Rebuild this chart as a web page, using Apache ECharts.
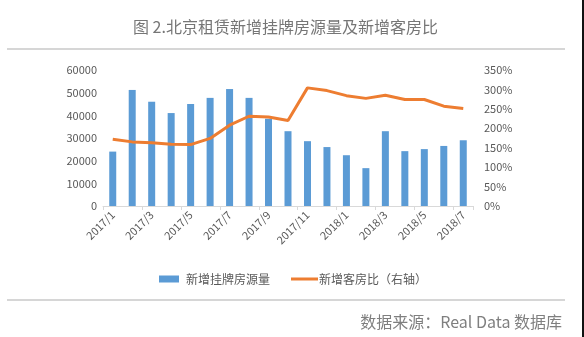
<!DOCTYPE html>
<html>
<head>
<meta charset="utf-8">
<script src="https://cdn.jsdelivr.net/npm/echarts@6/dist/echarts.min.js"></script>
<style>
  html, body { margin: 0; padding: 0; background: #ffffff; }
  #chart { width: 584px; height: 337px; }
</style>
</head>
<body>
<div id="chart"></div>
<script>
// Monthly categories, 2017/1 – 2018/7
const months = [
  '2017/1', '2017/2', '2017/3', '2017/4', '2017/5', '2017/6', '2017/7', '2017/8',
  '2017/9', '2017/10', '2017/11', '2017/12', '2018/1', '2018/2', '2018/3', '2018/4',
  '2018/5', '2018/6', '2018/7'
];
// New listings (left axis)
const newListings = [
  24000, 51200, 46000, 41000, 45000, 47700, 51600, 47700, 38500, 33000,
  28600, 26000, 22400, 16700, 33000, 24200, 25100, 26500, 29000
];
// New customer-to-listing ratio, % (right axis)
const customerRatio = [
  172, 165, 163, 159, 158, 174, 208, 231, 229, 220,
  304, 297, 284, 277, 285, 274, 274, 257, 251
];
const leftTicks = { min: 0, max: 60000, interval: 10000 };
const rightTicks = { min: 0, max: 350, interval: 50 };

const titleText = '图 2.北京租赁新增挂牌房源量及新增客房比';
const sourceText = '数据来源：Real Data 数据库';
const barName = '新增挂牌房源量';
const lineName = '新增客房比（右轴）';

const chart = echarts.init(document.getElementById('chart'), null, { renderer: 'canvas' });
const labelFont = { color: '#595959', fontSize: 11, fontFamily: '"Noto Sans CJK SC", "Microsoft YaHei", sans-serif' };

chart.setOption({
  animation: false,
  backgroundColor: '#ffffff',
  grid: { left: 103, right: 111, top: 70, bottom: 131, containLabel: false },
  legend: [
    {
      data: [{ name: barName, icon: 'rect' }],
      left: 154, top: 268,
      itemWidth: 20, itemHeight: 7, itemGap: 0,
      textStyle: { color: '#595959', fontSize: 12, fontFamily: labelFont.fontFamily, padding: [0, 0, 0, 2] }
    },
    {
      data: [{ name: lineName, icon: 'rect' }],
      left: 286, top: 268,
      itemWidth: 27, itemHeight: 3, itemGap: 0,
      textStyle: { color: '#595959', fontSize: 12, fontFamily: labelFont.fontFamily, padding: [0, 0, 0, -4] }
    }
  ],
  xAxis: {
    type: 'category',
    data: months,
    boundaryGap: true,
    axisLine: { lineStyle: { color: '#d9d9d9', width: 1 } },
    axisTick: { show: true, interval: 1, length: 4, lineStyle: { color: '#d9d9d9' } },
    axisLabel: Object.assign({ interval: 1, rotate: 45, margin: 7 }, labelFont),
    splitLine: { show: false }
  },
  yAxis: [
    {
      type: 'value',
      min: leftTicks.min, max: leftTicks.max, interval: leftTicks.interval,
      axisLine: { show: false },
      axisTick: { show: false },
      splitLine: { show: false },
      axisLabel: Object.assign({ margin: 6, formatter: function (v) { return String(v); } }, labelFont)
    },
    {
      type: 'value',
      min: rightTicks.min, max: rightTicks.max, interval: rightTicks.interval,
      position: 'right',
      axisLine: { show: false },
      axisTick: { show: false },
      splitLine: { show: false },
      axisLabel: Object.assign({ margin: 11, formatter: '{value}%' }, labelFont)
    }
  ],
  series: [
    {
      name: barName,
      type: 'bar',
      data: newListings,
      yAxisIndex: 0,
      barWidth: 7,
      itemStyle: { color: '#5b9bd5' }
    },
    {
      name: lineName,
      type: 'line',
      data: customerRatio,
      yAxisIndex: 1,
      showSymbol: false,
      symbol: 'none',
      lineStyle: { color: '#ed7d31', width: 3 },
      itemStyle: { color: '#ed7d31' },
      z: 3
    }
  ],
  graphic: [
    {
      type: 'text', left: 133, top: 19,
      style: { text: titleText, fill: '#767676', fontSize: 16, fontFamily: labelFont.fontFamily }
    },
    {
      type: 'line', shape: { x1: 7, y1: 49, x2: 565, y2: 49 },
      style: { stroke: '#c8c8c8', lineWidth: 1.5 }
    },
    {
      type: 'line', shape: { x1: 7, y1: 300, x2: 565, y2: 300 },
      style: { stroke: '#c8c8c8', lineWidth: 1.5 }
    },
    {
      type: 'text', right: 22, top: 314,
      style: { text: sourceText, fill: '#7f7f7f', fontSize: 16, fontFamily: labelFont.fontFamily }
    },
    {
      type: 'rect', shape: { x: 582, y: 0, width: 2, height: 337 },
      style: { fill: '#111111' }
    }
  ]
});
</script>
</body>
</html>
